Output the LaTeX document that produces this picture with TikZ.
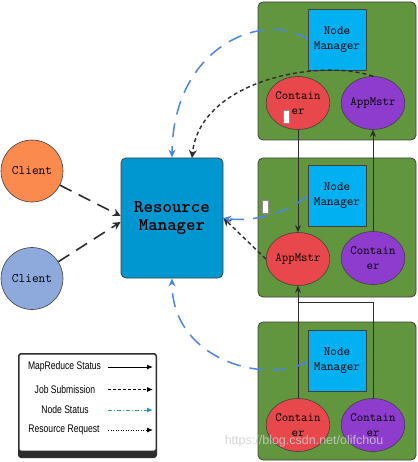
\documentclass[tikz,border=0pt]{standalone}
\usepackage{fontspec}
\newfontfamily\legfont{Liberation Sans}
\usetikzlibrary{arrows.meta,calc,shapes.geometric}
\definecolor{gfill}{RGB}{98,150,62}
\definecolor{nmfill}{RGB}{0,176,240}
\definecolor{rmfill}{RGB}{0,150,207}
\definecolor{redf}{RGB}{232,72,75}
\definecolor{purpf}{RGB}{142,60,205}
\definecolor{orangef}{RGB}{250,138,78}
\definecolor{bluecl}{RGB}{142,169,219}
\definecolor{edge}{RGB}{64,64,64}
\definecolor{dark}{RGB}{45,45,45}
\definecolor{bluearr}{RGB}{74,134,232}
\definecolor{tealarr}{RGB}{40,150,195}
\definecolor{wm}{RGB}{205,205,205}
\newcommand\leg[1]{\scalebox{0.78}[1]{#1}}
\tikzset{
  gbox/.style={draw=edge,fill=gfill,rounded corners=5pt,line width=0.8pt,minimum width=158pt,minimum height=138pt,inner sep=0pt},
  nmbox/.style={draw=edge,fill=nmfill,line width=0.6pt,minimum width=58pt,minimum height=61pt,inner sep=0pt,align=center,font=\ttfamily\fontsize{12.8}{15}\selectfont},
  rmbox/.style={draw=edge,fill=rmfill,rounded corners=5pt,line width=0.8pt,minimum width=102pt,minimum height=120pt,inner sep=0pt,align=center,font=\ttfamily\bfseries\fontsize{18}{18}\selectfont},
  ell/.style={ellipse,draw=edge,line width=0.6pt,minimum width=62pt,minimum height=53pt,inner sep=0pt,align=center,font=\ttfamily\fontsize{12.5}{15}\selectfont},
  redell/.style={ell,fill=redf},
  purpell/.style={ell,fill=purpf},
  client/.style={circle,draw=edge,line width=0.6pt,minimum size=62pt,inner sep=0pt,font=\ttfamily\fontsize{13}{15}\selectfont},
  solidarr/.style={draw=dark,line width=0.8pt,-{Stealth[length=7pt,width=6pt]}},
  jobarr/.style={draw=dark,line width=1.4pt,dash pattern=on 4pt off 3pt,-{Stealth[length=8pt,width=8pt]}},
  clarr/.style={draw=dark,line width=1.6pt,dash pattern=on 13pt off 8pt,-{Stealth[length=8pt,width=8pt]}},
  bluearrow/.style={draw=bluearr,line width=1.5pt,dash pattern=on 14pt off 9pt,-{Stealth[length=8pt,width=7pt]}},
  whitebit/.style={draw=edge!60,fill=white,line width=0.4pt,minimum width=6pt,minimum height=13pt,inner sep=0pt},
  legtext/.style={font=\legfont\fontsize{11}{13}\selectfont,inner sep=0pt},
  legarr/.style={line width=1pt,-{Latex[length=6pt,width=5pt]}},
}
\begin{document}
\begin{tikzpicture}[x=1pt,y=-1pt]
\useasboundingbox (0,0) rectangle (417,462);
% green boxes
\node[gbox] (g1) at (337,71) {};
\node[gbox,minimum height=139pt] (g2) at (337,227.5) {};
\node[gbox] (g3) at (337,391) {};
% node managers
\node[nmbox] (nm1) at (337,39.5) {Node\\Manager};
\node[nmbox] (nm2) at (337,195.5) {Node\\Manager};
\node[nmbox] (nm3) at (337,361) {Node\\Manager};
% ellipses
\node[redell] (c1) at (298,103) {Contain\\er};
\node[purpell] (a1) at (373,103) {AppMstr};
\node[redell] (a2) at (298,259) {AppMstr};
\node[purpell] (p2) at (373,258) {Contain\\er};
\node[redell] (c3) at (298,425) {Contain\\er};
\node[purpell] (p3) at (373,425) {Contain\\er};
% resource manager
\node[rmbox] (rm) at (172,218) {Resource\\Manager};
% clients
\node[client,fill=orangef] (cl1) at (32,171) {Client};
\node[client,fill=bluecl] (cl2) at (32,278.5) {Client};
% white bits
\node[whitebit] (w1) at (286.5,116.5) {};
\node[whitebit] (w2) at (265,207) {};
% client arrows
\draw[clarr] (cl1) -- ([yshift=2pt]rm.west);
\draw[clarr] (cl2) -- ([yshift=-4pt]rm.west);
% solid MapReduce status
\draw[solidarr] (c1.south) -- (a2.north);
\draw[solidarr] (p2.north) -- (a1.south);
\draw[solidarr] (c3.north) -- (a2.south);
\coordinate (join) at (298,302);
\draw[draw=dark,line width=0.8pt] (p3.north) |- (join);
% job / request dashed black
\draw[jobarr] (a2.west) -- (rm.east);
\coordinate (rmtop) at (192,158);
\draw[jobarr] (a1.north) .. controls (320,58) and (200,80) .. (rmtop);
% blue node status curves
\draw[bluearrow] (nm1.west) .. controls (265,10) and (173,45) .. (rm.north);
\draw[bluearrow] (nm2.west) .. controls (285,215) and (250,222) .. (rm.east);
\draw[bluearrow] (nm3.west) .. controls (270,385) and (172,362) .. (rm.south);
% legend
\fill[dark,rounded corners=3pt] (18,353) rectangle (157,458);
\fill[white,rounded corners=1.5pt] (19.5,354.5) rectangle (155.5,450.5);
\node[legtext] (l1) at (64.5,367) {\leg{MapReduce Status}};
\node[legtext] (l2) at (65,389.5) {\leg{Job Submission}};
\node[legtext] (l3) at (65,410) {\leg{Node Status}};
\node[legtext] (l4) at (64,430) {\leg{Resource Request}};
\coordinate (s1) at (108,367); \coordinate (e1) at (153,367);
\coordinate (s2) at (108,389.5); \coordinate (e2) at (153,389.5);
\coordinate (s3) at (108,410); \coordinate (e3) at (153,410);
\coordinate (s4) at (108,430); \coordinate (e4) at (153,430);
\draw[legarr,black] (s1) -- (e1);
\draw[legarr,black,dash pattern=on 3pt off 2pt] (s2) -- (e2);
\draw[legarr,tealarr,dash pattern=on 4pt off 2pt on 1pt off 2pt] (s3) -- (e3);
\draw[legarr,black,line width=0.9pt,dash pattern=on 1pt off 1.5pt] (s4) -- (e4);
% watermark
\node[font=\legfont\fontsize{12.5}{14}\selectfont,text=wm,opacity=0.85,inner sep=0pt] (wmk) at (304,441) {https://blog.csdn.net/olifchou};
\end{tikzpicture}
\end{document}
